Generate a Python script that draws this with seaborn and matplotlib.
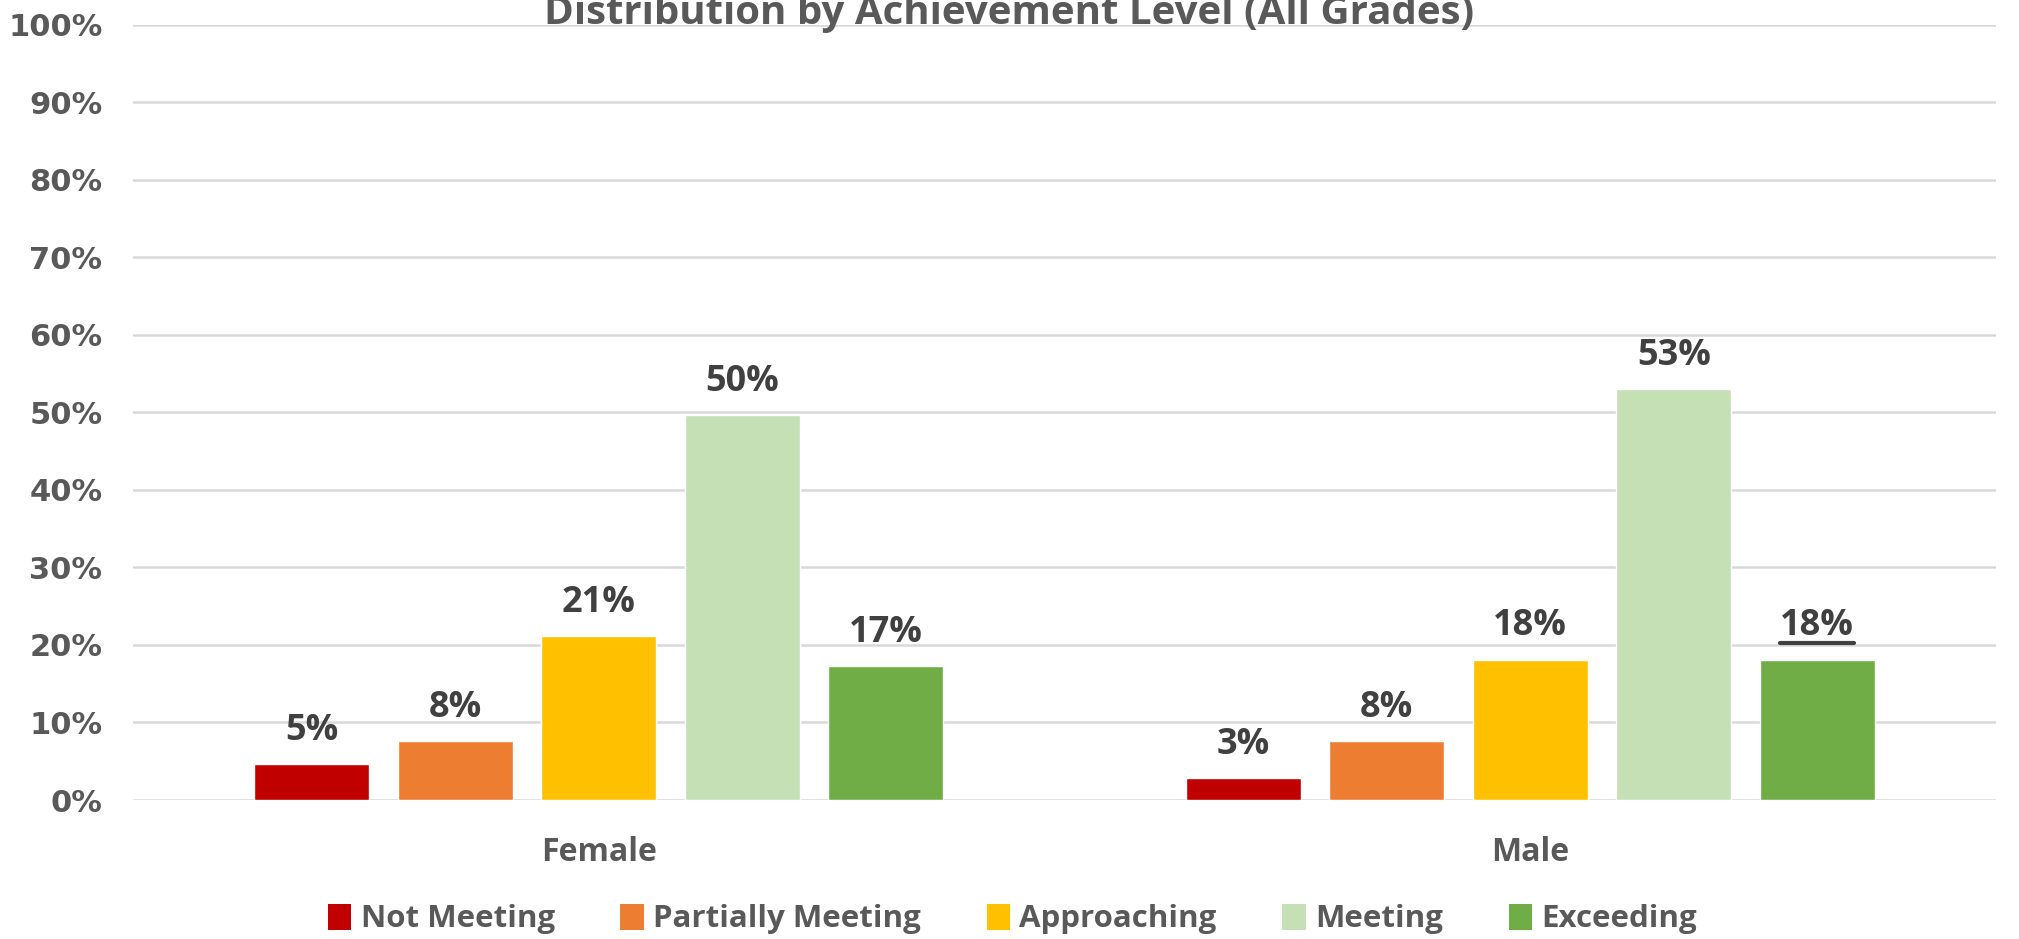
import matplotlib
matplotlib.use("Agg")
import matplotlib.pyplot as plt
import seaborn as sns
import pandas as pd
from matplotlib.patches import Patch
from matplotlib.lines import Line2D

# Data
genders = ["Female", "Male"]
levels = ["Not Meeting", "Partially Meeting", "Approaching", "Meeting", "Exceeding"]
female = [4.6, 7.6, 21.1, 49.6, 17.3]
male = [2.8, 7.6, 18.1, 53.0, 18.1]
colors = ["#C00000", "#ED7D31", "#FFC000", "#C5E0B4", "#70AD47"]

rows = []
for g, vals in zip(genders, [female, male]):
    for lvl, v in zip(levels, vals):
        rows.append({"gender": g, "level": lvl, "pct": v})
df = pd.DataFrame(rows)

sns.set_theme(style="white")
plt.rcParams["font.family"] = ["DejaVu Sans"]
txt_font = "Open Sans"

fig = plt.figure(figsize=(20.19, 9.39), dpi=100)
ax = fig.add_axes([133 / 2019, 1 - 800 / 939, (1996 - 133) / 2019, (800 - 24.5) / 939])

sns.barplot(data=df, x="gender", y="pct", hue="level", hue_order=levels,
            palette=colors, width=0.77, gap=0.2, saturation=1, ax=ax, legend=False)

ax.set_ylim(0, 100)
ax.set_xlim(-0.5, 1.5)
ax.set_yticks(range(0, 101, 10))
ax.set_yticklabels([f"{t}%" for t in range(0, 101, 10)], fontsize=22,
                   fontweight="bold", color="#595959")
ax.set_xticklabels(genders, fontsize=23, fontweight="bold", color="#595959",
                   family=txt_font)
ax.tick_params(axis="x", pad=26, length=0)
ax.tick_params(axis="y", pad=22, length=0)
ax.set_xlabel("")
ax.set_ylabel("")
ax.yaxis.grid(True, color="#D9D9D9", lw=1.8)
ax.set_axisbelow(True)
for s in ax.spines.values():
    s.set_visible(False)

label_texts = []
for cont in ax.containers:
    txts = ax.bar_label(cont, fmt="{:.0f}%", padding=11, fontsize=26,
                        fontweight="bold", color="#404040", family=txt_font)
    label_texts.append(txts)

# title, clipped at the top as in the original
fig.text(0.5, 1 - 24 / 939, "Distribution by Achievement Level (All Grades)", ha="center",
         va="baseline", fontsize=29, fontweight="bold", color="#595959", family=txt_font)

handles = [Patch(facecolor=c, edgecolor="none") for c in colors]
fig.legend(handles, levels, loc="center", bbox_to_anchor=(0.5015, 1 - 919 / 939), ncol=5,
           frameon=False, handlelength=0.75, handleheight=0.9, handletextpad=0.3,
           columnspacing=2.1, prop={"family": txt_font, "weight": "bold", "size": 22.5},
           labelcolor="#595959")

# underline the last data label (Male, Exceeding)
fig.canvas.draw()
t = label_texts[-1][-1]
bb = t.get_window_extent(renderer=fig.canvas.get_renderer())
y0 = bb.y0 + 1
fig.add_artist(Line2D([bb.x0 / fig.bbox.width, bb.x1 / fig.bbox.width],
                      [y0 / fig.bbox.height, y0 / fig.bbox.height],
                      color="#404040", lw=3))

fig.savefig("out.png", dpi=100)
